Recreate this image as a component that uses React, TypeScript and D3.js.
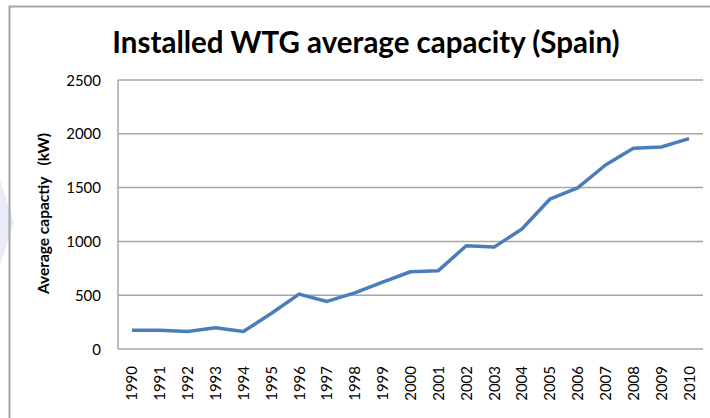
import React, { useEffect, useRef } from 'react';
import * as d3 from 'd3';

const years = ['1990', '1991', '1992', '1993', '1994', '1995', '1996', '1997', '1998', '1999', '2000',
  '2001', '2002', '2003', '2004', '2005', '2006', '2007', '2008', '2009', '2010'];
const capacity = [175, 175, 162, 198, 162, 330, 510, 442, 522, 622, 718, 728, 960, 947, 1115, 1392, 1498, 1710, 1865, 1877, 1955];
const yTicks = [0, 500, 1000, 1500, 2000, 2500];

const font = 'Lato, "Open Sans", sans-serif';

const App = () => {
  const svgRef = useRef<SVGSVGElement>(null);

  useEffect(() => {
    const width = 710;
    const height = 418;
    const margin = { top: 80, right: 7, bottom: 69, left: 118 };

    const svg = d3.select(svgRef.current);
    svg.selectAll('*').remove();

    // faint shape peeking in on the left edge
    svg.append('path')
      .attr('d', 'M0,180 L14,222 L0,266 Z')
      .attr('fill', '#e9ebf7');

    // outer frame
    svg.append('path')
      .attr('d', `M9.5,${height} L9.5,6.5 L${width},6.5`)
      .attr('fill', 'none')
      .attr('stroke', '#a6a6a6')
      .attr('stroke-width', 2);

    svg.append('text')
      .attr('x', 366)
      .attr('y', 53)
      .attr('text-anchor', 'middle')
      .attr('font-family', font)
      .attr('font-weight', 'bold')
      .attr('font-size', 29.5)
      .attr('fill', '#000')
      .text('Installed WTG average capacity (Spain)');

    const x = d3.scaleBand()
      .domain(years)
      .range([margin.left, width - margin.right]);

    const y = d3.scaleLinear()
      .domain([0, 2500])
      .range([height - margin.bottom, margin.top]);

    const g = svg.append('g');

    // gridlines
    g.selectAll('.grid')
      .data(yTicks.slice(1))
      .enter().append('line')
      .attr('x1', margin.left)
      .attr('x2', width - margin.right)
      .attr('y1', d => y(d))
      .attr('y2', d => y(d))
      .attr('stroke', '#a6a6a6')
      .attr('stroke-width', 1.5);

    // axes lines
    g.append('line')
      .attr('x1', margin.left).attr('x2', margin.left)
      .attr('y1', y(2500)).attr('y2', y(0))
      .attr('stroke', '#a6a6a6').attr('stroke-width', 1.5);
    g.append('line')
      .attr('x1', margin.left).attr('x2', width - margin.right)
      .attr('y1', y(0)).attr('y2', y(0))
      .attr('stroke', '#a6a6a6').attr('stroke-width', 1.5);

    // y tick labels
    g.selectAll('.ylab')
      .data(yTicks)
      .enter().append('text')
      .attr('x', 101)
      .attr('y', d => y(d) + 5.5)
      .attr('text-anchor', 'end')
      .attr('font-family', font)
      .attr('font-size', 15)
      .attr('fill', '#000')
      .text(d => d);

    // x tick labels, rotated
    g.selectAll('.xlab')
      .data(years)
      .enter().append('text')
      .attr('transform', d => `translate(${x(d)! + x.bandwidth() / 2 + 5.5},366) rotate(-90)`)
      .attr('text-anchor', 'end')
      .attr('font-family', font)
      .attr('font-size', 15)
      .attr('fill', '#000')
      .text(d => d);

    // y axis title
    svg.append('text')
      .attr('transform', `translate(49,${(y(0) + y(2500)) / 2 - 1}) rotate(-90)`)
      .attr('text-anchor', 'middle')
      .attr('font-family', font)
      .attr('font-weight', 'bold')
      .attr('font-size', 15.5)
      .attr('fill', '#000')
      .attr('xml:space', 'preserve')
      .text('Average capactiy   (kW)');

    const line = d3.line<number>()
      .x((d, i) => x(years[i])! + x.bandwidth() / 2)
      .y(d => y(d));

    svg.append('path')
      .datum(capacity)
      .attr('fill', 'none')
      .attr('stroke', '#4a7ebb')
      .attr('stroke-width', 3.5)
      .attr('stroke-linejoin', 'round')
      .attr('d', line);
  }, []);

  return (
    <svg
      ref={svgRef}
      width={710}
      height={418}
      style={{ position: 'absolute', left: 0, top: 0, background: '#fff' }}
    />
  );
};

export default App;
